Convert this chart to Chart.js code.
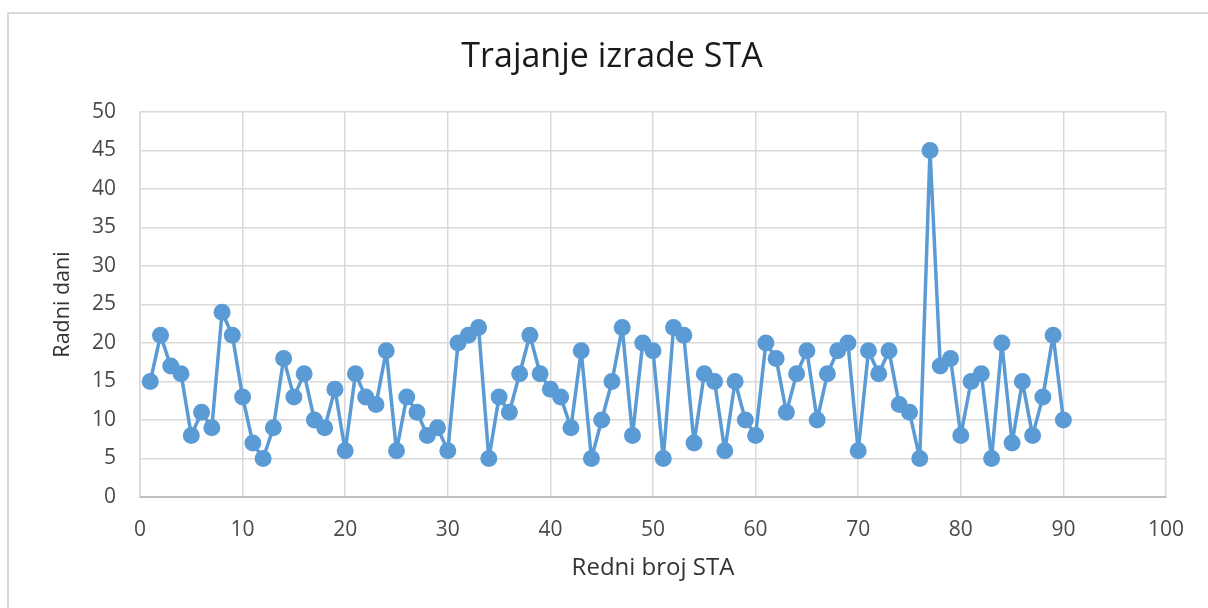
<!DOCTYPE html>
<html>
<head>
<meta charset="utf-8">
<script src="https://cdn.jsdelivr.net/npm/chart.js@4/dist/chart.umd.min.js"></script>
<style>
  html, body { margin: 0; padding: 0; background: #ffffff; overflow: hidden; }
  #frame {
    position: absolute; left: 7px; top: 12px; width: 1400px; height: 800px;
    border: 2px solid #d9d9d9; box-sizing: border-box;
  }
  #wrap { position: absolute; left: 0; top: 0; width: 1208px; height: 608px; }
</style>
</head>
<body>
<div id="frame"></div>
<div id="wrap"><canvas id="chart" width="1208" height="608"></canvas></div>
<script>
// Redni broj STA (x) and trajanje u radnim danima (y)
const staNumbers = [
  1, 2, 3, 4, 5, 6, 7, 8, 9, 10,
  11, 12, 13, 14, 15, 16, 17, 18, 19, 20,
  21, 22, 23, 24, 25, 26, 27, 28, 29, 30,
  31, 32, 33, 34, 35, 36, 37, 38, 39, 40,
  41, 42, 43, 44, 45, 46, 47, 48, 49, 50,
  51, 52, 53, 54, 55, 56, 57, 58, 59, 60,
  61, 62, 63, 64, 65, 66, 67, 68, 69, 70,
  71, 72, 73, 74, 75, 76, 77, 78, 79, 80,
  81, 82, 83, 84, 85, 86, 87, 88, 89, 90
];
const workingDays = [
  15, 21, 17, 16, 8, 11, 9, 24, 21, 13,
  7, 5, 9, 18, 13, 16, 10, 9, 14, 6,
  16, 13, 12, 19, 6, 13, 11, 8, 9, 6,
  20, 21, 22, 5, 13, 11, 16, 21, 16, 14,
  13, 9, 19, 5, 10, 15, 22, 8, 20, 19,
  5, 22, 21, 7, 16, 15, 6, 15, 10, 8,
  20, 18, 11, 16, 19, 10, 16, 19, 20, 6,
  19, 16, 19, 12, 11, 5, 45, 17, 18, 8,
  15, 16, 5, 20, 7, 15, 8, 13, 21, 10
];

const chartTitle = 'Trajanje izrade STA';
const xAxisTitle = 'Redni broj STA';
const yAxisTitle = 'Radni dani';

const points = staNumbers.map((n, i) => ({ x: n, y: workingDays[i] }));

const FONT = "'Open Sans', 'Noto Sans', sans-serif";
const GRID = '#d9d9d9';
const TICK = '#4a4a4a';
const LINE = '#5b9bd5';

new Chart(document.getElementById('chart'), {
  type: 'line',
  data: {
    datasets: [{
      data: points,
      borderColor: LINE,
      backgroundColor: LINE,
      borderWidth: 3.5,
      borderJoinStyle: 'round',
      pointRadius: 8.5,
      pointBorderWidth: 0,
      pointBackgroundColor: LINE,
      tension: 0,
      fill: false
    }]
  },
  options: {
    responsive: false,
    animation: false,
    events: [],
    layout: { padding: { top: 0, left: 16, right: 0, bottom: 0 } },
    plugins: {
      legend: { display: false },
      tooltip: { enabled: false },
      title: {
        display: true,
        text: chartTitle,
        color: '#1a1a1a',
        font: { family: FONT, size: 34, weight: 'normal', lineHeight: 1.2 },
        padding: { top: 37, bottom: 34.2 }
      }
    },
    scales: {
      x: {
        type: 'linear',
        min: 0,
        max: 100,
        ticks: {
          stepSize: 10,
          color: TICK,
          padding: 20,
          font: { family: FONT, size: 21 }
        },
        grid: { color: GRID, lineWidth: 1.5, drawTicks: false },
        border: { color: '#bfbfbf', width: 2 },
        title: {
          display: true,
          text: xAxisTitle,
          color: '#333333',
          font: { family: FONT, size: 24 },
          padding: { top: 0, bottom: 25.5 }
        },
        afterFit(scale) { scale.height = 111; }
      },
      y: {
        min: 0,
        max: 50,
        ticks: {
          stepSize: 5,
          color: TICK,
          padding: 24,
          font: { family: FONT, size: 21 }
        },
        grid: { color: GRID, lineWidth: 1.5, drawTicks: false },
        border: { color: GRID, width: 1.5 },
        title: {
          display: true,
          text: yAxisTitle,
          color: '#333333',
          font: { family: FONT, size: 21.5 },
          padding: { top: 34, bottom: 0 }
        },
        afterFit(scale) { scale.width = 124; }
      },
      // empty right-hand axis that only reserves the right margin
      yRight: {
        position: 'right',
        min: 0,
        max: 50,
        grid: { display: false, drawTicks: false },
        border: { display: false },
        ticks: { display: false },
        afterFit(scale) { scale.width = 42; }
      }
    }
  }
});
</script>
</body>
</html>
